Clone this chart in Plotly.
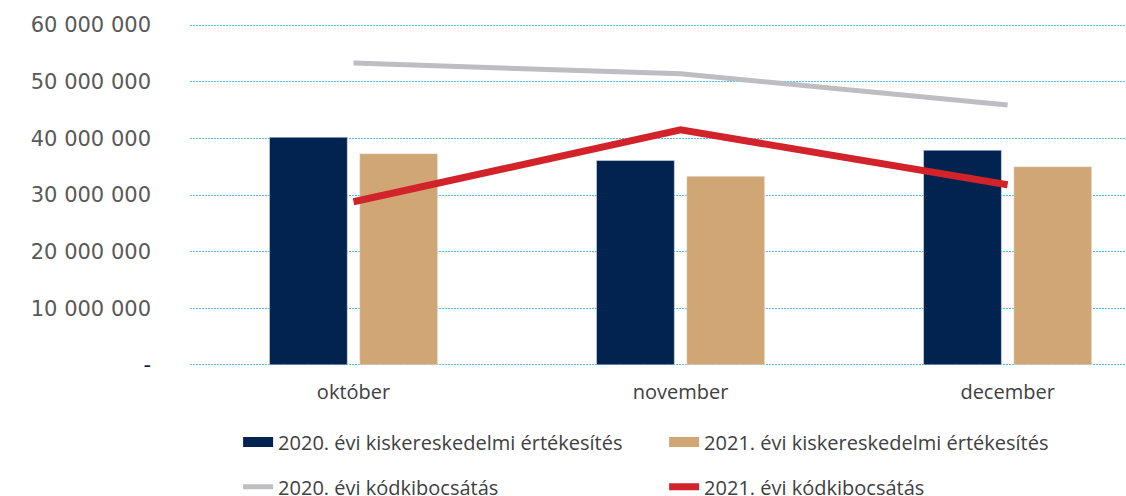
import plotly.graph_objects as go

categories = ["október", "november", "december"]
sales_2020 = [40.2e6, 36.1e6, 37.9e6]
sales_2021 = [37.3e6, 33.3e6, 35.0e6]
codes_2020 = [53.3e6, 51.4e6, 45.9e6]
codes_2021 = [28.8e6, 41.5e6, 31.8e6]

y_ticks = [0, 10e6, 20e6, 30e6, 40e6, 50e6, 60e6]
y_ticktext = ["<span style='color:#022350'>-</span>", "10 000 000", "20 000 000",
              "30 000 000", "40 000 000", "50 000 000", "60 000 000"]

names = ["2020. évi kiskereskedelmi értékesítés", "2021. évi kiskereskedelmi értékesítés",
         "2020. évi kódkibocsátás", "2021. évi kódkibocsátás"]

NAVY = "#022350"
TAN = "#D0A674"
GRAY = "#BEBEC2"
RED = "#D2232A"
FONT = "Open Sans"
NUMFONT = "DejaVu Sans"

xpos = list(range(len(categories)))

fig = go.Figure()
fig.add_trace(go.Bar(x=xpos, y=sales_2020, name=names[0], marker_color=NAVY,
                     width=0.238, offset=-0.257, showlegend=False))
fig.add_trace(go.Bar(x=xpos, y=sales_2021, name=names[1], marker_color=TAN,
                     width=0.238, offset=0.019, showlegend=False))
fig.add_trace(go.Scatter(x=xpos, y=codes_2020, name=names[2], mode="lines",
                         line=dict(color=GRAY, width=5), legend="legend2"))
fig.add_trace(go.Scatter(x=xpos, y=codes_2021, name=names[3], mode="lines",
                         line=dict(color=RED, width=7), legend="legend2"))
# legend swatches for the bar series (block-shaped keys)
fig.add_trace(go.Scatter(x=[None], y=[None], name=names[0], mode="lines",
                         line=dict(color=NAVY, width=18), legend="legend"))
fig.add_trace(go.Scatter(x=[None], y=[None], name=names[1], mode="lines",
                         line=dict(color=TAN, width=18), legend="legend"))

legend_common = dict(orientation="h", xanchor="left", yanchor="middle",
                     font=dict(family=FONT, size=20, color="#404040"),
                     entrywidth=381, entrywidthmode="pixels",
                     bgcolor="rgba(0,0,0,0)", itemclick=False)

fig.update_layout(
    width=1126, height=496,
    margin=dict(l=190, r=0, t=24, b=130, autoexpand=False),
    paper_bgcolor="white", plot_bgcolor="white",
    barmode="overlay",
    font=dict(family=FONT, color="#595959"),
    xaxis=dict(range=[-0.5, 2.362], tickvals=xpos, ticktext=categories,
               showgrid=False, zeroline=False, showline=False, ticks="",
               automargin=False, ticklabelstandoff=12,
               tickfont=dict(family=FONT, size=20, color="#404040")),
    yaxis=dict(range=[-0.2e6, 60.2e6], tickvals=y_ticks, ticktext=y_ticktext,
               showgrid=True, gridcolor="#4FC3EE", griddash="2px,1px", gridwidth=1,
               zeroline=False, showline=False, ticks="", automargin=False,
               ticklabelstandoff=38,
               tickfont=dict(family=NUMFONT, size=21, color="#595959")),
    legend=dict(x=0.0514, y=-0.222, **legend_common),
    legend2=dict(x=0.0514, y=-0.353, **legend_common),
)

fig.write_html("out.html", config={"displayModeBar": False},
               post_script="document.body.style.margin='0';document.body.style.overflow='hidden';")
